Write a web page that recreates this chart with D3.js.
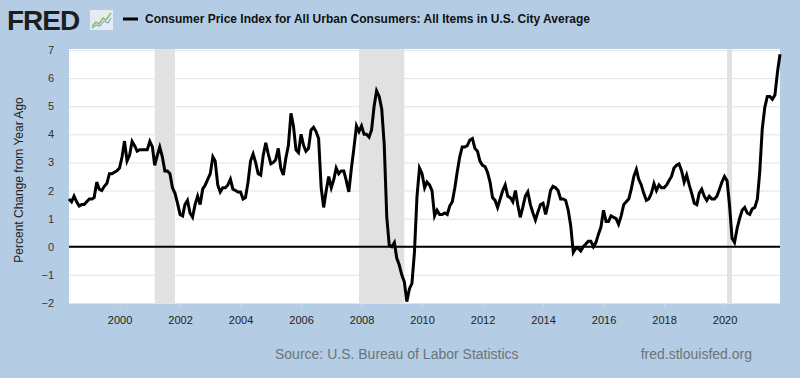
<!DOCTYPE html>
<html>
<head>
<meta charset="utf-8">
<script src="https://cdn.jsdelivr.net/npm/d3@7"></script>
<style>
    html, body { margin: 0; padding: 0; background: #b4cde5; }
    svg { display: block; font-family: "Liberation Sans", Arial, sans-serif; }
</style>
</head>
<body>
<svg id="cpiChart" width="800" height="378"></svg>
<script>
// series info
var seriesTitle = "Consumer Price Index for All Urban Consumers: All Items in U.S. City Average";
var axisTitle = "Percent Change from Year Ago";
var sourceText = "Source: U.S. Bureau of Labor Statistics";
var siteText = "fred.stlouisfed.org";

// monthly values, first one is May 1998
var firstMonth = "1998-05";
var cpiChange = [
    1.7, 1.6, 1.8, 1.6, 1.45, 1.5, 1.5, 1.6,                       // 1998 (May-Dec)
    1.7, 1.7, 1.75, 2.3, 2.05, 2.0, 2.15, 2.25, 2.6, 2.6, 2.65, 2.7, // 1999
    2.8, 3.2, 3.76, 3.05, 3.25, 3.75, 3.6, 3.4, 3.45, 3.45, 3.45, 3.45, // 2000
    3.75, 3.55, 2.9, 3.25, 3.55, 3.2, 2.7, 2.7, 2.6, 2.1, 1.9, 1.55, // 2001
    1.15, 1.1, 1.5, 1.65, 1.2, 1.05, 1.5, 1.8, 1.5, 2.05, 2.2, 2.4,  // 2002
    2.6, 3.2, 3.05, 2.2, 1.95, 2.1, 2.1, 2.2, 2.4, 2.05, 2.0, 1.95,  // 2003
    1.95, 1.7, 1.75, 2.3, 3.05, 3.3, 3.0, 2.6, 2.55, 3.25, 3.7, 3.3, // 2004
    2.95, 3.0, 3.1, 3.5, 2.8, 2.55, 3.15, 3.6, 4.75, 4.3, 3.45, 3.35, // 2005
    4.0, 3.6, 3.4, 3.5, 4.15, 4.25, 4.1, 3.85, 2.1, 1.4, 2.0, 2.5,   // 2006
    2.1, 2.4, 2.8, 2.6, 2.7, 2.7, 2.35, 1.95, 2.8, 3.5, 4.3, 4.1,    // 2007
    4.3, 4.0, 4.0, 3.9, 4.15, 5.0, 5.55, 5.35, 4.9, 3.65, 1.05, 0.05, // 2008
    0.0, 0.15, -0.4, -0.65, -1.0, -1.25, -1.95, -1.5, -1.3, -0.2, 1.8, 2.8, // 2009
    2.6, 2.1, 2.3, 2.2, 2.0, 1.1, 1.3, 1.15, 1.15, 1.2, 1.15, 1.45,  // 2010
    1.6, 2.1, 2.65, 3.2, 3.55, 3.55, 3.6, 3.8, 3.85, 3.5, 3.4, 3.05, // 2011
    2.9, 2.85, 2.65, 2.3, 1.75, 1.65, 1.4, 1.7, 2.0, 2.2, 1.8, 1.75, // 2012
    1.6, 2.0, 1.5, 1.05, 1.4, 1.8, 1.95, 1.5, 1.2, 0.95, 1.25, 1.5,  // 2013
    1.55, 1.15, 1.5, 2.0, 2.15, 2.1, 2.0, 1.7, 1.7, 1.65, 1.3, 0.75, // 2014
    -0.2, -0.05, -0.05, -0.15, 0.0, 0.1, 0.2, 0.2, 0.0, 0.15, 0.45, 0.7, // 2015
    1.3, 0.9, 0.9, 1.1, 1.05, 1.0, 0.8, 1.1, 1.5, 1.6, 1.7, 2.05,    // 2016
    2.5, 2.75, 2.4, 2.2, 1.9, 1.65, 1.7, 1.9, 2.25, 2.0, 2.2, 2.1,   // 2017
    2.1, 2.2, 2.35, 2.5, 2.8, 2.9, 2.95, 2.7, 2.3, 2.55, 2.2, 1.9,   // 2018
    1.55, 1.5, 1.9, 2.05, 1.8, 1.65, 1.8, 1.7, 1.7, 1.8, 2.05, 2.3,  // 2019
    2.5, 2.35, 1.5, 0.3, 0.15, 0.65, 1.0, 1.3, 1.4, 1.2, 1.15, 1.35, // 2020
    1.4, 1.7, 2.65, 4.2, 4.95, 5.35, 5.35, 5.25, 5.4, 6.2, 6.85      // 2021 (Jan-Nov)
];

// recessions (start month, end month)
var recessionStarts = ["2001-03", "2007-12", "2020-02"];
var recessionEnds = ["2001-11", "2009-06", "2020-04"];

// axis ticks
var yTicks = [-2, -1, 0, 1, 2, 3, 4, 5, 6, 7];
var xTickYears = [2000, 2002, 2004, 2006, 2008, 2010, 2012, 2014, 2016, 2018, 2020];

DrawCpiChart();

function DrawCpiChart() {
    var parseMonth = d3.timeParse("%Y-%m");

    var margin = { top: 49, right: 20, bottom: 75, left: 69 },
        width = 800 - margin.left - margin.right,
        height = 378 - margin.top - margin.bottom;

    var start = parseMonth(firstMonth);
    var data = cpiChange.map(function (v, i) {
        return { date: d3.timeMonth.offset(start, i), value: v };
    });

    var x = d3.scaleTime()
        .domain(d3.extent(data, function (d) { return d.date; }))
        .range([0, width]);
    var y = d3.scaleLinear().domain([-2, 7]).range([height, 1]);

    var svg = d3.select("#cpiChart");

    // background
    svg.append("rect")
        .attr("width", 800).attr("height", 378)
        .attr("fill", "#b4cde5");

    var g = svg.append("g")
        .attr("transform", "translate(" + margin.left + "," + margin.top + ")");

    // plot area
    g.append("rect")
        .attr("width", width).attr("height", height + 0.5)
        .attr("fill", "#ffffff");

    // recession bars
    g.selectAll("rect.recession")
        .data(recessionStarts)
        .enter().append("rect")
        .attr("class", "recession")
        .attr("x", function (d) { return x(parseMonth(d)); })
        .attr("y", 0)
        .attr("width", function (d, i) { return x(parseMonth(recessionEnds[i])) - x(parseMonth(d)); })
        .attr("height", height + 0.5)
        .attr("fill", "#e1e1e1");

    // horizontal grid
    g.append("g")
        .call(d3.axisLeft(y).tickValues(yTicks).tickSize(-width).tickFormat(""))
        .call(function (ax) {
            ax.select(".domain").remove();
            ax.selectAll("line").attr("stroke", "#e3e3e3").attr("stroke-width", 1);
        });

    // zero line
    g.append("line")
        .attr("x1", 0).attr("x2", width)
        .attr("y1", y(0)).attr("y2", y(0))
        .attr("stroke", "#000").attr("stroke-width", 2);

    // the series
    var valueline = d3.line()
        .x(function (d) { return x(d.date); })
        .y(function (d) { return y(d.value); });

    g.append("path")
        .attr("d", valueline(data))
        .attr("fill", "none")
        .attr("stroke", "#000")
        .attr("stroke-width", 3)
        .attr("stroke-linejoin", "miter");

    // y axis labels
    g.append("g")
        .call(d3.axisLeft(y).tickValues(yTicks).tickSize(0).tickPadding(15))
        .call(function (ax) {
            ax.select(".domain").remove();
            ax.selectAll("text")
                .attr("fill", "#333")
                .style("font-size", "11px")
                .style("font-family", "'Liberation Sans', Arial, sans-serif");
        });

    // x axis
    var xTicks = xTickYears.map(function (yr) { return new Date(yr, 0, 1); });
    g.append("g")
        .attr("transform", "translate(0," + height + ")")
        .call(d3.axisBottom(x).tickValues(xTicks).tickSize(5).tickPadding(8)
            .tickFormat(d3.timeFormat("%Y")))
        .call(function (ax) {
            ax.select(".domain").remove();
            ax.selectAll("line").attr("stroke", "#c8d8e8");
            ax.selectAll("text")
                .attr("fill", "#222")
                .style("font-size", "11px")
                .style("font-family", "'Liberation Sans', Arial, sans-serif");
        });

    // y axis title
    svg.append("text")
        .attr("transform", "translate(23," + (margin.top + height / 2 + 4) + ") rotate(-90)")
        .attr("text-anchor", "middle")
        .attr("fill", "#222")
        .style("font-size", "12px")
        .text(axisTitle);

    // FRED logo
    svg.append("text")
        .attr("x", 7).attr("y", 30)
        .attr("fill", "#1d1d1d")
        .style("font-size", "28px")
        .style("font-weight", "bold")
        .style("letter-spacing", "-1px")
        .text("FRED");
    var icon = svg.append("g").attr("transform", "translate(90,10)");
    icon.append("rect")
        .attr("width", 23).attr("height", 20)
        .attr("fill", "#e4ecf2");
    icon.append("polyline")
        .attr("points", "2,16 6,12 9,14 13,8 16,10 21,3")
        .attr("fill", "none").attr("stroke", "#8dbb5a").attr("stroke-width", 1.5);
    icon.append("polyline")
        .attr("points", "2,18 6,15 10,16 14,11 18,13 21,8")
        .attr("fill", "none").attr("stroke", "#7fa6c9").attr("stroke-width", 1.2);

    // legend
    svg.append("line")
        .attr("x1", 123).attr("x2", 138)
        .attr("y1", 19).attr("y2", 19)
        .attr("stroke", "#000").attr("stroke-width", 3);
    svg.append("text")
        .attr("x", 145).attr("y", 23)
        .attr("fill", "#111")
        .style("font-size", "12px")
        .style("font-weight", "bold")
        .text(seriesTitle);

    // footer
    svg.append("text")
        .attr("x", 275).attr("y", 359)
        .attr("fill", "#6d7378")
        .style("font-size", "14px")
        .text(sourceText);
    svg.append("text")
        .attr("x", 752).attr("y", 359)
        .attr("text-anchor", "end")
        .attr("fill", "#6d7378")
        .style("font-size", "14px")
        .text(siteText);
}
</script>
</body>
</html>
